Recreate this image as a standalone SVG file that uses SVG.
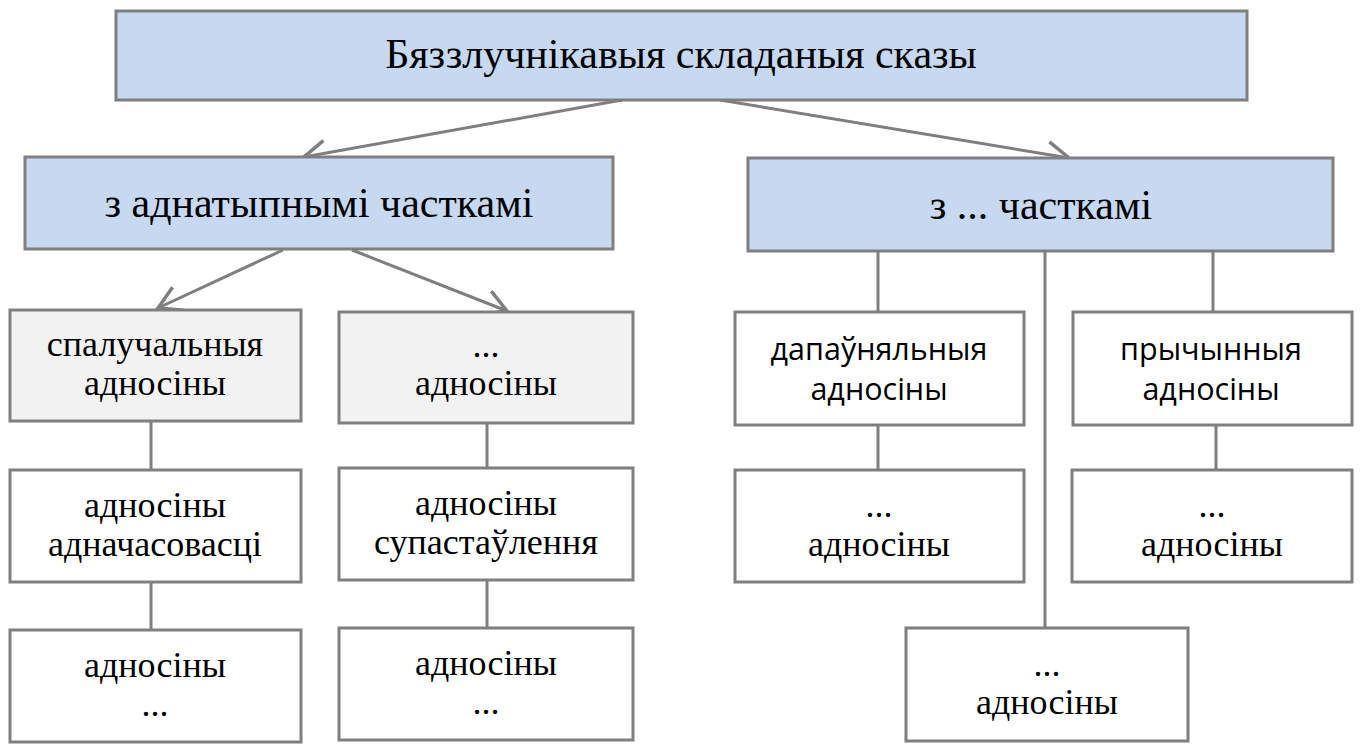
<svg xmlns="http://www.w3.org/2000/svg" width="1362" height="747" viewBox="0 0 1362 747">
<defs>
<style>
.bx{stroke:#7f7f7f;stroke-width:3}
.blue{fill:#c6d9f1}
.grey{fill:#f2f2f2}
.white{fill:#ffffff}
.t{font-family:"Liberation Serif","Times New Roman",serif;fill:#000;text-anchor:middle;font-size:36px}
.h{font-size:42px}
.s{font-family:"Open Sans","Liberation Sans",sans-serif;fill:#000;text-anchor:middle;font-size:30.5px}
.c{stroke:#7f7f7f;stroke-width:3;fill:none}
</style>
<marker id="ah" markerUnits="userSpaceOnUse" markerWidth="30" markerHeight="30" viewBox="-22 -13 26 26" refX="0" refY="0" orient="auto">
<path d="M-19,-11 L0,0 L-19,11" fill="none" stroke="#7f7f7f" stroke-width="3"/>
</marker>
</defs>
<rect width="1362" height="747" fill="#ffffff"/>
<g id="connectors">
<line class="c" x1="622" y1="100" x2="304" y2="157" marker-end="url(#ah)"/>
<line class="c" x1="720" y1="100" x2="1069" y2="158" marker-end="url(#ah)"/>
<line class="c" x1="283" y1="250" x2="158" y2="308" marker-end="url(#ah)"/>
<line class="c" x1="352" y1="250" x2="507" y2="311" marker-end="url(#ah)"/>
<line class="c" x1="151" y1="421" x2="151" y2="470"/>
<line class="c" x1="487" y1="423" x2="487" y2="468"/>
<line class="c" x1="151" y1="582" x2="151" y2="630"/>
<line class="c" x1="487" y1="580" x2="487" y2="628"/>
<line class="c" x1="878" y1="251" x2="878" y2="312"/>
<line class="c" x1="1045" y1="251" x2="1045" y2="628"/>
<line class="c" x1="1213" y1="251" x2="1213" y2="312"/>
<line class="c" x1="878" y1="425" x2="878" y2="470"/>
<line class="c" x1="1216" y1="425" x2="1216" y2="470"/>
</g>
<g id="root">
<rect class="bx blue" x="116" y="11" width="1131" height="89"/>
<text class="t h" x="681" y="68">Бяззлучнікавыя складаныя сказы</text>
</g>
<g id="homog">
<rect class="bx blue" x="25" y="157" width="588" height="92"/>
<text class="t h" x="319" y="217">з аднатыпнымі часткамі</text>
</g>
<g id="hetero">
<rect class="bx blue" x="748" y="158" width="585" height="93"/>
<text class="t h" x="1041" y="219">з ... часткамі</text>
</g>
<g id="copul">
<rect class="bx grey" x="10" y="310" width="291" height="111"/>
<text class="t" x="155" y="356">спалучальныя</text>
<text class="t" x="155" y="395">адносіны</text>
</g>
<g id="other1">
<rect class="bx grey" x="339" y="312" width="294" height="111"/>
<text class="t" x="486" y="357">...</text>
<text class="t" x="486" y="395">адносіны</text>
</g>
<g id="simult">
<rect class="bx white" x="10" y="470" width="291" height="112"/>
<text class="t" x="155" y="517">адносіны</text>
<text class="t" x="155" y="556">адначасовасці</text>
</g>
<g id="compar">
<rect class="bx white" x="339" y="468" width="294" height="112"/>
<text class="t" x="486" y="515">адносіны</text>
<text class="t" x="486" y="554">супастаўлення</text>
</g>
<g id="leftBottom">
<rect class="bx white" x="10" y="630" width="291" height="112"/>
<text class="t" x="155" y="677">адносіны</text>
<text class="t" x="155" y="716">...</text>
</g>
<g id="midBottom">
<rect class="bx white" x="339" y="628" width="294" height="112"/>
<text class="t" x="486" y="675">адносіны</text>
<text class="t" x="486" y="714">...</text>
</g>
<g id="complem">
<rect class="bx white" x="735" y="312" width="289" height="113"/>
<text class="s" x="879" y="360">дапаўняльныя</text>
<text class="s" x="879" y="400">адносіны</text>
</g>
<g id="causal">
<rect class="bx white" x="1073" y="312" width="279" height="113"/>
<text class="s" x="1211" y="360">прычынныя</text>
<text class="s" x="1211" y="400">адносіны</text>
</g>
<g id="r1">
<rect class="bx white" x="735" y="470" width="289" height="112"/>
<text class="t" x="879" y="517">...</text>
<text class="t" x="879" y="556">адносіны</text>
</g>
<g id="r2">
<rect class="bx white" x="1072" y="470" width="280" height="112"/>
<text class="t" x="1212" y="517">...</text>
<text class="t" x="1212" y="556">адносіны</text>
</g>
<g id="r3">
<rect class="bx white" x="906" y="628" width="282" height="113"/>
<text class="t" x="1047" y="676">...</text>
<text class="t" x="1047" y="714">адносіны</text>
</g>
</svg>
